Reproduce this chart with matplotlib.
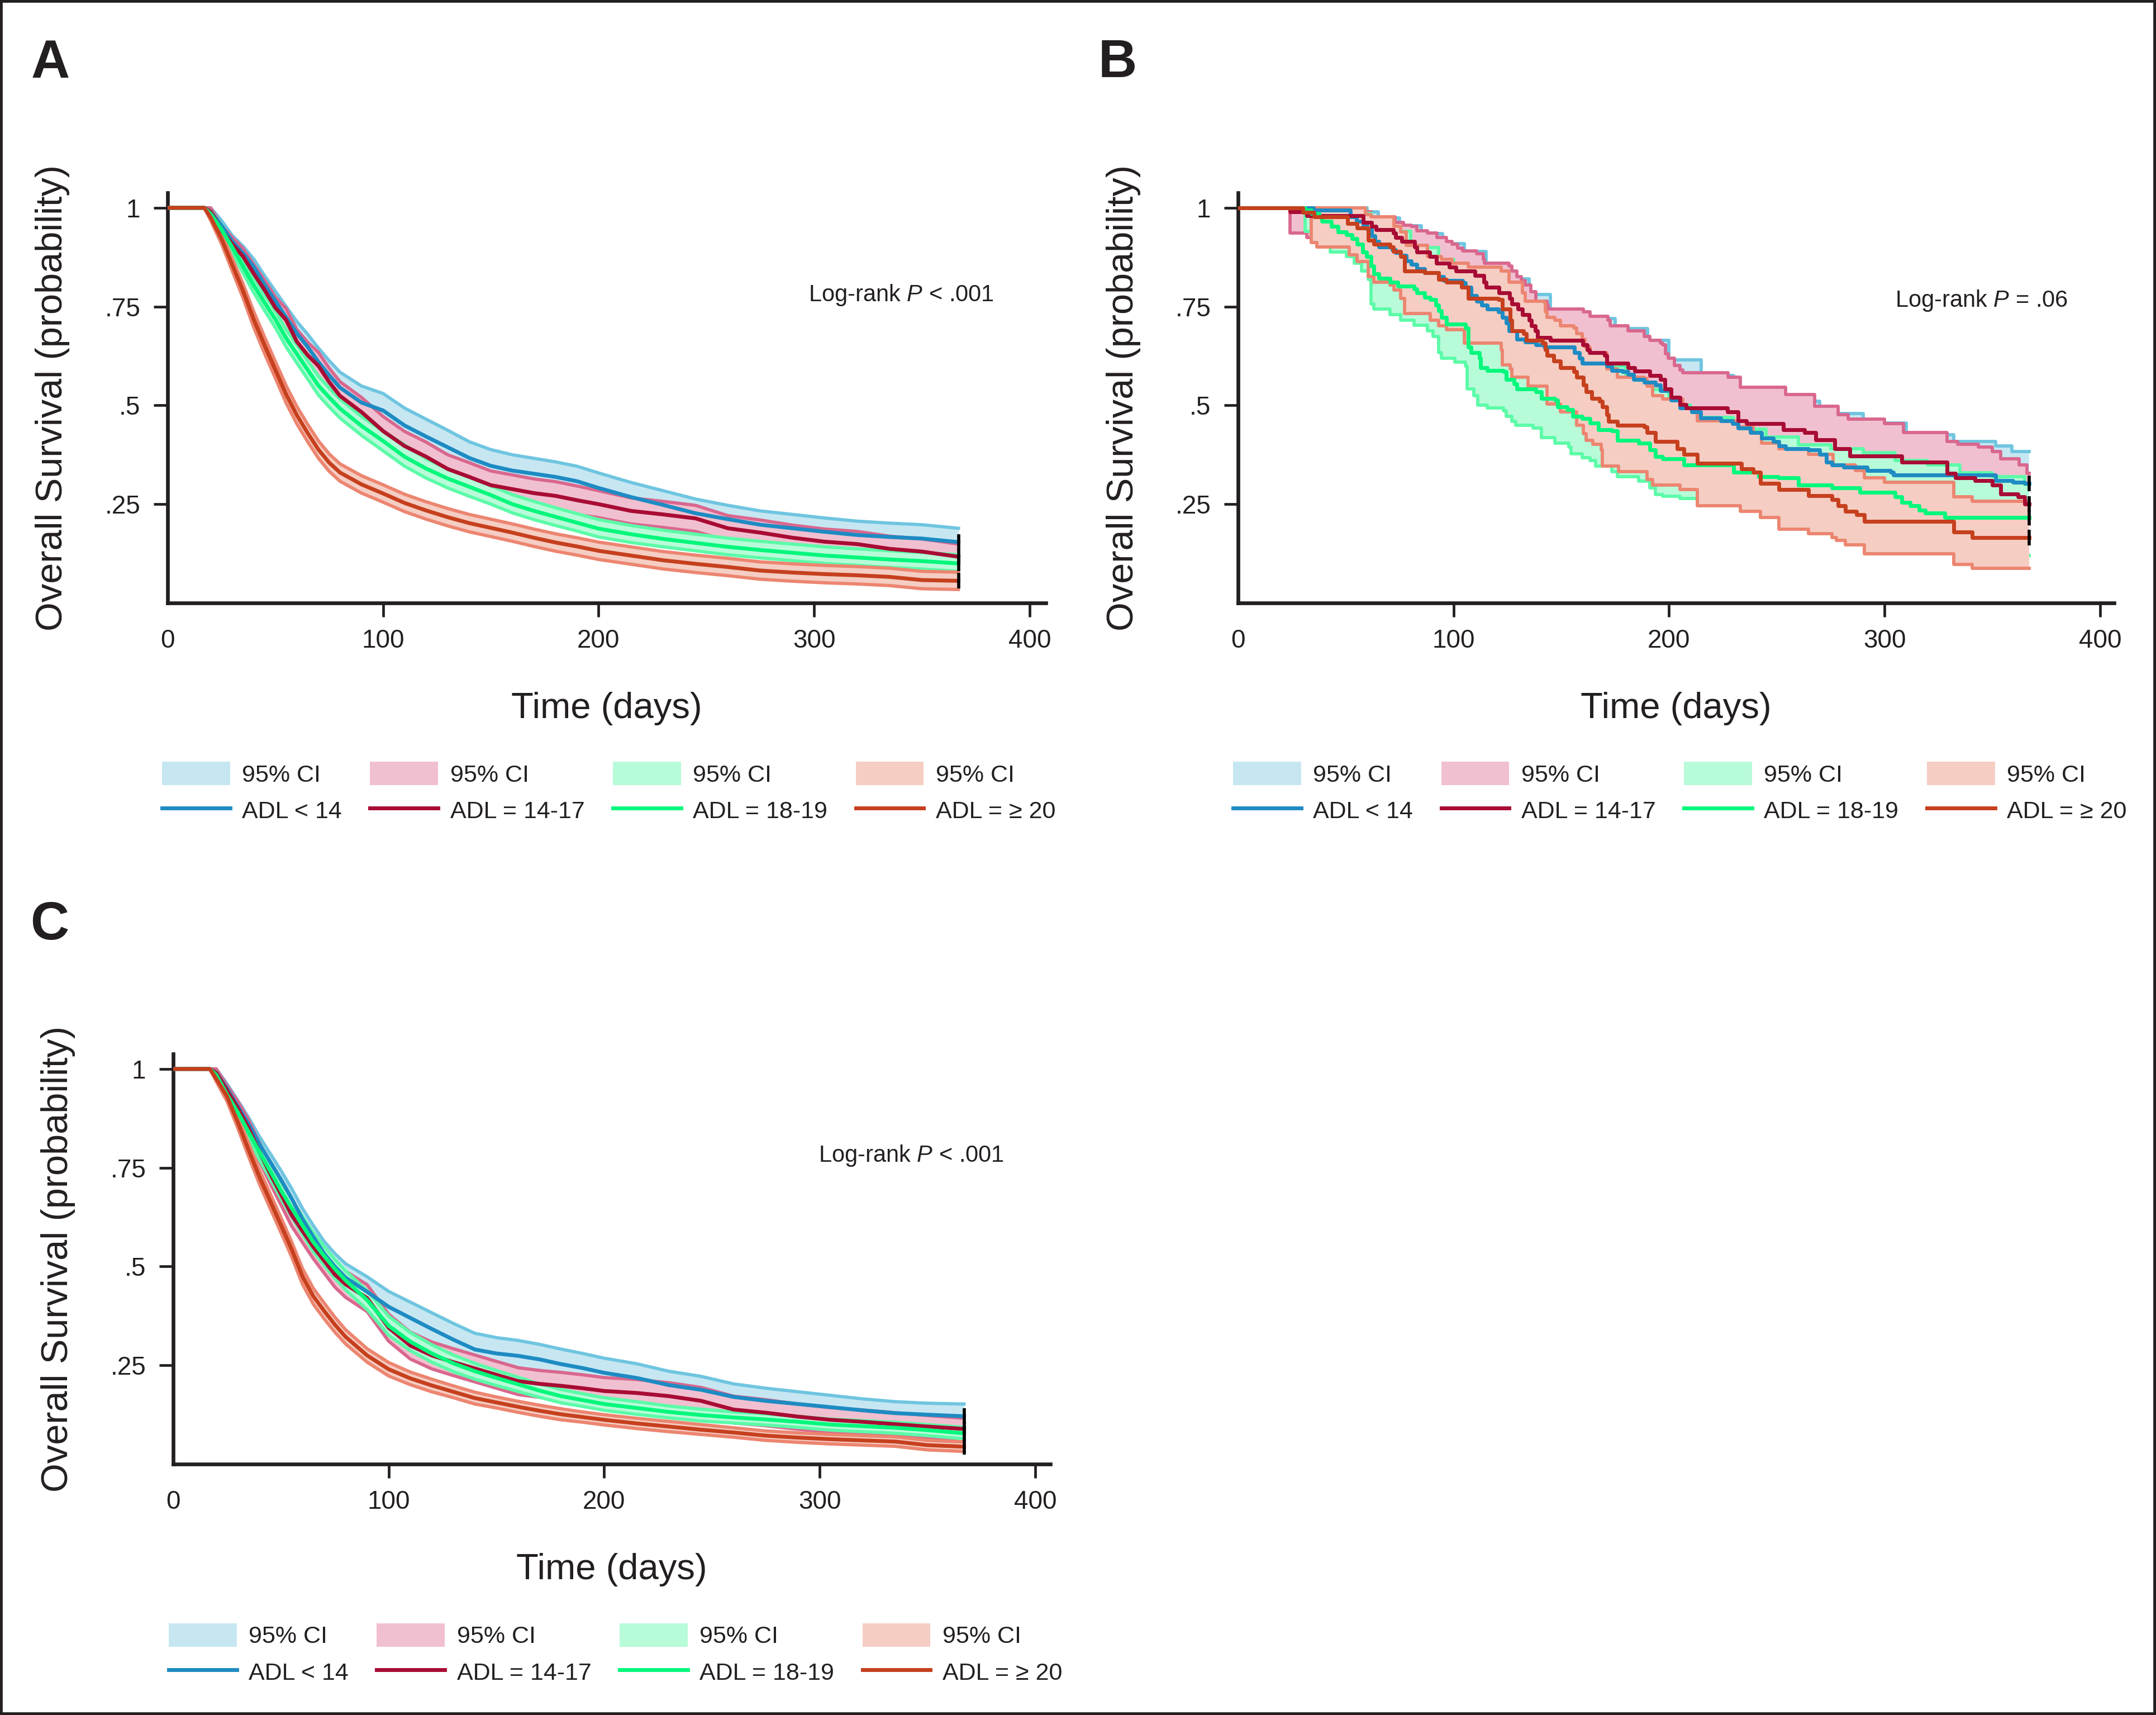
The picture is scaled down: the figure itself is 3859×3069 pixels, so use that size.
import numpy as np
import matplotlib
matplotlib.use('Agg')
import matplotlib.pyplot as plt
from matplotlib.patches import Patch, Rectangle
from matplotlib.lines import Line2D

plt.rcParams['font.family'] = ['Liberation Sans', 'DejaVu Sans']
plt.rcParams['mathtext.fontset'] = 'custom'
plt.rcParams['mathtext.rm'] = 'Liberation Sans'
plt.rcParams['mathtext.it'] = 'Liberation Sans:italic'

INK = '#231f20'

# ---------------- labels / ticks ----------------
groups = ['ADL < 14', 'ADL = 14-17', 'ADL = 18-19', 'ADL = \u2265 20']
ci_label = '95% CI'
xticks = [0, 100, 200, 300, 400]
xticklabels = ['0', '100', '200', '300', '400']
yticks = [0.25, 0.5, 0.75, 1.0]
yticklabels = ['.25', '.5', '.75', '1']
panel_letters = ['A', 'B', 'C']
logrank = ['Log-rank $P$ < .001', 'Log-rank $P$ = .06', 'Log-rank $P$ < .001']
xlabel = 'Time (days)'
ylabel = 'Overall Survival (probability)'

line_colors = ['#1e8bc3', '#a80c34', '#05f77c', '#c6401e']
edge_colors = ['#6fc5e0', '#d9678e', '#5cfba8', '#ec8570']
fill_colors = ['#c6e7f2', '#f1c0d0', '#b8fbd9', '#f5cdc3']

# ---------------- panel A / C (dense curves, read on a day grid) ----------------
days = [0, 17, 20, 25, 30, 35, 40, 45, 50, 55, 60, 65, 70, 75, 80, 90, 100, 110, 120, 130,
        140, 150, 160, 170, 180, 190, 200, 215, 230, 245, 260, 275, 290, 305, 320, 335, 350, 367]

A_blue = [1, 1, 0.99, 0.955, 0.915, 0.885, 0.85, 0.805, 0.764, 0.723, 0.682, 0.648, 0.61, 0.576, 0.545,
          0.507, 0.487, 0.449, 0.421, 0.394, 0.367, 0.347, 0.335, 0.327, 0.319, 0.308, 0.291, 0.268, 0.248,
          0.227, 0.212, 0.198, 0.189, 0.18, 0.172, 0.167, 0.163, 0.154]
A_blue_hi = [1, 1, 1.0, 0.968, 0.93, 0.903, 0.87, 0.828, 0.789, 0.75, 0.712, 0.68, 0.645, 0.613, 0.584,
             0.549, 0.53, 0.493, 0.465, 0.437, 0.408, 0.388, 0.375, 0.366, 0.357, 0.346, 0.329, 0.305, 0.284,
             0.263, 0.247, 0.233, 0.224, 0.215, 0.207, 0.202, 0.198, 0.189]
A_blue_lo = [1, 1, 0.98, 0.942, 0.9, 0.867, 0.83, 0.782, 0.739, 0.696, 0.652, 0.616, 0.575, 0.539, 0.506,
             0.465, 0.444, 0.405, 0.377, 0.351, 0.326, 0.306, 0.295, 0.288, 0.281, 0.27, 0.253, 0.231, 0.212,
             0.191, 0.177, 0.163, 0.154, 0.145, 0.137, 0.132, 0.128, 0.119]
A_crim = [1, 1, 0.99, 0.943, 0.908, 0.877, 0.833, 0.792, 0.747, 0.716, 0.661, 0.627, 0.6, 0.559, 0.524,
          0.483, 0.435, 0.397, 0.37, 0.339, 0.319, 0.298, 0.288, 0.278, 0.271, 0.26, 0.25, 0.233, 0.224,
          0.214, 0.189, 0.178, 0.165, 0.155, 0.149, 0.137, 0.13, 0.117]
A_crim_hi = [1, 1, 1.0, 0.956, 0.925, 0.897, 0.856, 0.817, 0.774, 0.745, 0.692, 0.66, 0.634, 0.594, 0.56,
             0.52, 0.472, 0.434, 0.407, 0.375, 0.355, 0.334, 0.324, 0.314, 0.307, 0.296, 0.284, 0.266, 0.257,
             0.247, 0.221, 0.21, 0.197, 0.187, 0.181, 0.169, 0.162, 0.149]
A_crim_lo = [1, 1, 0.98, 0.93, 0.891, 0.857, 0.81, 0.767, 0.72, 0.687, 0.63, 0.594, 0.566, 0.524, 0.488,
             0.446, 0.398, 0.36, 0.333, 0.303, 0.283, 0.262, 0.252, 0.242, 0.235, 0.224, 0.216, 0.2, 0.191,
             0.181, 0.157, 0.146, 0.133, 0.123, 0.117, 0.105, 0.098, 0.085]
A_green = [1, 1, 0.985, 0.945, 0.9, 0.852, 0.804, 0.76, 0.718, 0.67, 0.63, 0.59, 0.55, 0.52, 0.492,
           0.448, 0.41, 0.37, 0.34, 0.315, 0.294, 0.273, 0.25, 0.233, 0.218, 0.203, 0.188, 0.174, 0.162,
           0.152, 0.142, 0.134, 0.127, 0.12, 0.115, 0.11, 0.106, 0.1]
A_green_hi = [1, 1, 0.992, 0.957, 0.915, 0.869, 0.823, 0.78, 0.739, 0.692, 0.653, 0.613, 0.574, 0.544, 0.516,
              0.472, 0.435, 0.40, 0.365, 0.339, 0.318, 0.297, 0.274, 0.257, 0.241, 0.226, 0.211, 0.196, 0.184,
              0.174, 0.164, 0.156, 0.149, 0.142, 0.137, 0.132, 0.128, 0.122]
A_green_lo = [1, 1, 0.978, 0.933, 0.885, 0.835, 0.785, 0.74, 0.697, 0.648, 0.607, 0.567, 0.526, 0.496, 0.468,
              0.424, 0.385, 0.346, 0.316, 0.291, 0.27, 0.25, 0.228, 0.211, 0.196, 0.182, 0.167, 0.153, 0.142,
              0.132, 0.122, 0.114, 0.107, 0.1, 0.095, 0.09, 0.086, 0.08]
A_orange = [1, 1, 0.975, 0.922, 0.856, 0.79, 0.717, 0.652, 0.59, 0.528, 0.475, 0.43, 0.388, 0.355, 0.33,
            0.30, 0.277, 0.253, 0.234, 0.217, 0.202, 0.19, 0.178, 0.165, 0.153, 0.143, 0.132, 0.12, 0.108,
            0.099, 0.091, 0.082, 0.077, 0.073, 0.07, 0.066, 0.058, 0.056]
A_orange_hi = [1, 1, 0.982, 0.935, 0.872, 0.808, 0.737, 0.673, 0.611, 0.55, 0.497, 0.452, 0.41, 0.377, 0.352,
               0.322, 0.299, 0.275, 0.256, 0.239, 0.224, 0.212, 0.2, 0.187, 0.175, 0.165, 0.154, 0.142, 0.13,
               0.121, 0.113, 0.104, 0.099, 0.095, 0.092, 0.088, 0.08, 0.078]
A_orange_lo = [1, 1, 0.968, 0.909, 0.84, 0.772, 0.697, 0.631, 0.569, 0.506, 0.453, 0.408, 0.366, 0.333, 0.308,
               0.278, 0.255, 0.231, 0.212, 0.195, 0.18, 0.168, 0.156, 0.143, 0.131, 0.121, 0.11, 0.098, 0.086,
               0.077, 0.069, 0.06, 0.055, 0.051, 0.048, 0.044, 0.036, 0.034]

C_blue = [1, 1, 0.99, 0.95, 0.905, 0.86, 0.81, 0.765, 0.72, 0.672, 0.62, 0.575, 0.533, 0.5, 0.472,
          0.436, 0.398, 0.37, 0.342, 0.315, 0.29, 0.28, 0.274, 0.265, 0.253, 0.243, 0.231, 0.218, 0.2,
          0.188, 0.17, 0.16, 0.152, 0.144, 0.136, 0.129, 0.125, 0.121]
C_blue_hi = [1, 1, 1.0, 0.962, 0.92, 0.877, 0.829, 0.786, 0.743, 0.697, 0.647, 0.604, 0.564, 0.533, 0.507,
             0.474, 0.437, 0.41, 0.383, 0.356, 0.331, 0.32, 0.313, 0.303, 0.291, 0.28, 0.268, 0.254, 0.235,
             0.222, 0.203, 0.192, 0.183, 0.174, 0.165, 0.158, 0.154, 0.152]
C_blue_lo = [1, 1, 0.98, 0.938, 0.89, 0.843, 0.791, 0.744, 0.697, 0.647, 0.593, 0.546, 0.502, 0.467, 0.437,
             0.398, 0.359, 0.33, 0.301, 0.274, 0.249, 0.24, 0.235, 0.227, 0.215, 0.206, 0.194, 0.182, 0.165,
             0.154, 0.137, 0.128, 0.121, 0.114, 0.107, 0.1, 0.096, 0.09]
C_crim = [1, 1, 0.99, 0.945, 0.9, 0.85, 0.79, 0.735, 0.683, 0.63, 0.59, 0.55, 0.515, 0.48, 0.455,
          0.42, 0.345, 0.30, 0.275, 0.258, 0.242, 0.226, 0.21, 0.203, 0.198, 0.192, 0.185, 0.18, 0.172,
          0.16, 0.138, 0.13, 0.12, 0.112, 0.107, 0.101, 0.095, 0.089]
C_crim_hi = [1, 1, 1.0, 0.958, 0.918, 0.871, 0.813, 0.76, 0.71, 0.658, 0.62, 0.58, 0.546, 0.512, 0.488,
             0.454, 0.379, 0.334, 0.309, 0.292, 0.276, 0.26, 0.244, 0.237, 0.232, 0.226, 0.219, 0.214, 0.206,
             0.194, 0.172, 0.163, 0.152, 0.143, 0.137, 0.13, 0.123, 0.116]
C_crim_lo = [1, 1, 0.98, 0.932, 0.882, 0.829, 0.767, 0.71, 0.656, 0.602, 0.561, 0.52, 0.484, 0.448, 0.422,
             0.386, 0.311, 0.266, 0.241, 0.224, 0.208, 0.192, 0.176, 0.169, 0.164, 0.158, 0.151, 0.146, 0.138,
             0.126, 0.104, 0.097, 0.088, 0.081, 0.077, 0.072, 0.067, 0.062]
C_green = [1, 1, 0.985, 0.935, 0.89, 0.84, 0.79, 0.742, 0.693, 0.648, 0.604, 0.562, 0.527, 0.494, 0.465,
           0.415, 0.35, 0.31, 0.28, 0.255, 0.235, 0.218, 0.202, 0.186, 0.172, 0.162, 0.152, 0.142, 0.132,
           0.124, 0.118, 0.113, 0.107, 0.1, 0.096, 0.092, 0.086, 0.078]
C_green_hi = [1, 1, 0.992, 0.947, 0.905, 0.857, 0.809, 0.762, 0.714, 0.67, 0.627, 0.586, 0.551, 0.518, 0.489,
              0.439, 0.374, 0.333, 0.302, 0.276, 0.255, 0.237, 0.22, 0.203, 0.189, 0.178, 0.168, 0.158, 0.147,
              0.139, 0.132, 0.127, 0.121, 0.114, 0.11, 0.106, 0.1, 0.093]
C_green_lo = [1, 1, 0.978, 0.923, 0.875, 0.823, 0.771, 0.722, 0.672, 0.626, 0.581, 0.538, 0.503, 0.47, 0.441,
              0.391, 0.326, 0.287, 0.258, 0.234, 0.215, 0.199, 0.184, 0.169, 0.155, 0.146, 0.136, 0.126, 0.117,
              0.109, 0.104, 0.099, 0.093, 0.086, 0.082, 0.078, 0.072, 0.064]
C_orange = [1, 1, 0.975, 0.93, 0.865, 0.795, 0.727, 0.666, 0.605, 0.543, 0.475, 0.425, 0.388, 0.353, 0.322,
            0.275, 0.24, 0.217, 0.199, 0.183, 0.167, 0.156, 0.145, 0.135, 0.126, 0.119, 0.112, 0.103, 0.095,
            0.087, 0.08, 0.072, 0.067, 0.063, 0.06, 0.057, 0.048, 0.044]
C_orange_hi = [1, 1, 0.982, 0.942, 0.88, 0.812, 0.745, 0.685, 0.624, 0.562, 0.495, 0.445, 0.408, 0.372, 0.34,
               0.292, 0.257, 0.233, 0.215, 0.198, 0.182, 0.17, 0.159, 0.149, 0.14, 0.132, 0.125, 0.116, 0.108,
               0.1, 0.092, 0.084, 0.079, 0.075, 0.072, 0.069, 0.06, 0.056]
C_orange_lo = [1, 1, 0.968, 0.918, 0.85, 0.778, 0.709, 0.647, 0.586, 0.524, 0.455, 0.405, 0.368, 0.334, 0.304,
               0.258, 0.223, 0.201, 0.183, 0.168, 0.152, 0.142, 0.131, 0.121, 0.112, 0.106, 0.099, 0.09, 0.082,
               0.075, 0.068, 0.06, 0.055, 0.051, 0.048, 0.045, 0.036, 0.032]

# ---------------- panel B (step curves: step times and values) ----------------
B_end = 367
B_blue_t = [0, 35, 52, 55, 58, 60, 62, 63.5, 65.4, 71.6, 73, 75.4, 78, 80.5, 83, 86.7, 93, 95.5, 104.3, 105.6,
            108, 110.6, 113, 115.6, 120.7, 122.6, 124.4, 125.7, 129.5, 133.3, 138.3, 142, 156, 158.4, 159.6,
            171, 173.5, 178.5, 181, 183.5, 188.6, 193.6, 196, 201, 205, 210.6, 214.6, 224, 229.5, 232,
            237.7, 243, 248.5, 251, 254, 264.8, 270, 273, 275.6, 281, 292, 302.8, 304, 351.6, 359.7, 365]
B_blue_s = [1, 0.994, 0.977, 0.966, 0.955, 0.946, 0.929, 0.915, 0.901, 0.894, 0.887, 0.88, 0.866, 0.857, 0.846,
            0.836, 0.826, 0.816, 0.81, 0.799, 0.778, 0.764, 0.754, 0.744, 0.737, 0.723, 0.709, 0.689, 0.668,
            0.661, 0.654, 0.648, 0.634, 0.62, 0.607, 0.6, 0.589, 0.586, 0.579, 0.565, 0.558, 0.552, 0.538,
            0.513, 0.494, 0.483, 0.468, 0.461, 0.454, 0.442, 0.431, 0.417, 0.409, 0.398, 0.391, 0.387, 0.376,
            0.357, 0.35, 0.343, 0.335, 0.331, 0.324, 0.309, 0.306, 0.302]
B_blue_hi_t = [0, 52, 60, 65, 75, 85, 95, 105, 115, 125, 135, 145, 160, 175, 190, 200, 215, 230, 250, 270,
               290, 310, 332, 351.6, 359]
B_blue_hi = [1, 1, 0.99, 0.975, 0.955, 0.935, 0.91, 0.89, 0.86, 0.82, 0.78, 0.735, 0.72, 0.695, 0.665, 0.615,
             0.575, 0.54, 0.51, 0.48, 0.455, 0.425, 0.409, 0.398, 0.383]
B_blue_lo_t = [0, 35, 52, 60, 65, 75, 85, 95, 105, 115, 125, 135, 145, 160, 175, 190, 200, 215, 230, 250, 270,
               290, 310, 330, 350, 365]
B_blue_lo = [1, 0.975, 0.96, 0.9, 0.86, 0.82, 0.79, 0.77, 0.74, 0.68, 0.63, 0.59, 0.575, 0.54, 0.52, 0.48,
             0.44, 0.39, 0.37, 0.33, 0.3, 0.27, 0.255, 0.25, 0.235, 0.225]

B_crim_t = [0, 24, 32, 58, 62, 64, 72, 73, 76, 82, 83, 89, 92, 98, 101, 110, 114, 115, 121, 126, 127, 130, 132,
            135, 136, 138, 139, 145, 160, 162, 163, 170, 171, 181, 184, 191, 196, 198, 201, 205, 208, 227, 232,
            236, 253, 263, 268, 277, 284, 308, 329, 333, 342, 350, 354, 362, 365]
B_crim_s = [1, 0.99, 0.98, 0.963, 0.953, 0.944, 0.936, 0.925, 0.915, 0.901, 0.888, 0.877, 0.86, 0.85, 0.84,
            0.829, 0.812, 0.799, 0.785, 0.771, 0.757, 0.744, 0.73, 0.716, 0.702, 0.689, 0.672, 0.665, 0.654,
            0.641, 0.634, 0.627, 0.607, 0.596, 0.587, 0.576, 0.565, 0.542, 0.52, 0.502, 0.494, 0.483, 0.461,
            0.454, 0.439, 0.431, 0.413, 0.391, 0.372, 0.357, 0.328, 0.317, 0.309, 0.298, 0.276, 0.269, 0.25]
B_crim_hi_t = [0, 52.8, 58.5, 61.6, 72.9, 76.7, 80.4, 83, 88, 92.4, 96.8, 99.3, 101.8, 104.3, 110.6, 113.8,
               114.4, 125.7, 127, 129.5, 131.4, 133.2, 135.8, 138.3, 143.3, 144, 160.3, 163.4, 171.6, 172.8,
               181, 188.6, 191, 196, 197, 198.4, 199.7, 202.4, 205, 206.5, 227.5, 233, 254, 267.5, 278.4, 283,
               300, 308.9, 329, 334, 343.5, 350, 354, 362.4, 366]
B_crim_hi = [1, 0.996, 0.99, 0.977, 0.963, 0.956, 0.953, 0.942, 0.936, 0.925, 0.915, 0.908, 0.898, 0.891, 0.884,
             0.87, 0.86, 0.853, 0.84, 0.826, 0.816, 0.805, 0.788, 0.764, 0.754, 0.744, 0.737, 0.726, 0.716, 0.702,
             0.689, 0.675, 0.665, 0.658, 0.653, 0.631, 0.62, 0.601, 0.59, 0.583, 0.572, 0.546, 0.528, 0.498,
             0.476, 0.465, 0.454, 0.431, 0.409, 0.402, 0.394, 0.383, 0.365, 0.35, 0.328]
B_crim_lo_t = [0, 24, 32, 40, 50, 60, 70, 80, 90, 100, 110, 120, 130, 140, 150, 160, 170, 180, 190, 200, 210,
               230, 250, 270, 290, 310, 330, 350, 365]
B_crim_lo = [1, 0.936, 0.925, 0.91, 0.9, 0.88, 0.85, 0.82, 0.79, 0.77, 0.75, 0.72, 0.67, 0.6, 0.58, 0.56, 0.54,
             0.51, 0.49, 0.46, 0.41, 0.38, 0.36, 0.33, 0.3, 0.28, 0.26, 0.23, 0.2]

B_green_t = [0, 31, 34, 37.7, 39, 43.4, 46.5, 50.3, 52.8, 55.3, 57.8, 59.7, 61.6, 62.9, 65.4, 70.4, 74.2, 81.7,
             83, 86.7, 89.2, 91.8, 93, 94.3, 96.8, 105.6, 106.8, 108.1, 111.9, 112.5, 115.6, 123.2, 124.4, 128.2,
             129.5, 138.3, 140.8, 147, 148.3, 152.7, 155.2, 159.6, 163.4, 167.2, 173.5, 176, 186, 191, 193.6,
             197, 207, 230, 241.7, 250.6, 260, 275.6, 288.5, 304.8, 308, 312, 316, 319, 328]
B_green_s = [1, 0.994, 0.985, 0.977, 0.966, 0.953, 0.939, 0.932, 0.922, 0.908, 0.888, 0.877, 0.853, 0.833, 0.822,
             0.812, 0.802, 0.795, 0.785, 0.774, 0.768, 0.754, 0.74, 0.723, 0.706, 0.696, 0.648, 0.634, 0.62,
             0.596, 0.589, 0.586, 0.565, 0.555, 0.541, 0.534, 0.517, 0.514, 0.497, 0.49, 0.473, 0.466, 0.456,
             0.439, 0.435, 0.411, 0.404, 0.387, 0.37, 0.365, 0.35, 0.331, 0.32, 0.317, 0.298, 0.291, 0.28, 0.269,
             0.254, 0.246, 0.235, 0.228, 0.217]
B_green_hi_t = [0, 40, 55, 62, 70, 80, 93, 100, 107, 113, 125, 130, 140, 150, 160, 170, 180, 190, 200, 210, 230,
                245, 260, 275, 290, 305, 320, 335, 350, 365]
B_green_hi = [1, 1, 0.985, 0.96, 0.94, 0.9, 0.87, 0.85, 0.8, 0.76, 0.73, 0.7, 0.68, 0.65, 0.62, 0.6, 0.56, 0.54,
              0.5, 0.47, 0.44, 0.42, 0.4, 0.39, 0.38, 0.36, 0.35, 0.33, 0.32, 0.3]
B_green_lo_t = [0, 31, 42.7, 50.3, 54, 57.2, 60.3, 61.6, 62.9, 70.4, 75.4, 81.7, 88, 90.5, 93, 94.3, 100.6, 105.6,
                106.2, 109.4, 111.2, 115.6, 123.2, 124.4, 127, 128.8, 137, 140.8, 147, 153.4, 154.6, 159.6, 163.4,
                166, 173.5, 176, 186, 191, 193.6, 197, 205, 213, 233.6, 242.4, 251, 264.8, 275.6, 290.6, 332, 340.7]
B_green_lo = [1, 0.94, 0.888, 0.877, 0.86, 0.84, 0.819, 0.757, 0.744, 0.73, 0.716, 0.703, 0.689, 0.675, 0.634,
              0.62, 0.61, 0.6, 0.541, 0.524, 0.5, 0.493, 0.487, 0.473, 0.459, 0.449, 0.442, 0.418, 0.404, 0.394,
              0.377, 0.367, 0.36, 0.346, 0.332, 0.319, 0.308, 0.291, 0.274, 0.27, 0.265, 0.25, 0.235, 0.22, 0.19,
              0.18, 0.17, 0.15, 0.13, 0.12]

B_orange_t = [0, 30, 35.2, 50.9, 55.3, 60.3, 62.9, 70.4, 72, 75.4, 77.3, 86.7, 93, 96.8, 103.7, 106.8, 120.7,
              122.6, 126.3, 127, 132.6, 133.9, 141.4, 142.7, 143.3, 146.4, 149.6, 155.9, 157.1, 160.3, 161.5, 164,
              167.8, 169, 171, 172, 176, 188.6, 189.8, 193.6, 203.8, 207, 213, 233.6, 239, 242.4, 251, 264.8,
              275.6, 278.4, 281.8, 287, 290.6, 332, 340.7]
B_orange_s = [1, 0.988, 0.977, 0.96, 0.949, 0.918, 0.908, 0.901, 0.89, 0.877, 0.84, 0.836, 0.819, 0.812, 0.799,
              0.771, 0.768, 0.744, 0.716, 0.689, 0.682, 0.665, 0.658, 0.641, 0.627, 0.613, 0.596, 0.586, 0.572,
              0.552, 0.534, 0.517, 0.51, 0.497, 0.476, 0.459, 0.449, 0.445, 0.432, 0.408, 0.391, 0.376, 0.354,
              0.339, 0.331, 0.302, 0.287, 0.272, 0.261, 0.246, 0.232, 0.224, 0.206, 0.18, 0.165]
B_orange_hi_t = [0, 59, 61.6, 72.3, 75.4, 78, 88, 94.3, 99.3, 106.8, 122, 125.7, 132, 133.2, 142, 142.7, 143.3,
                 147, 149.6, 155.9, 157.1, 159.6, 160.9, 163.4, 171, 171.2, 176, 188.6, 189.8, 192.3, 197, 206.5,
                 213, 232, 239, 243, 251, 264.8, 276, 286.5, 290.6, 300, 332, 340.7]
B_orange_hi = [1, 0.983, 0.977, 0.953, 0.939, 0.905, 0.877, 0.87, 0.86, 0.85, 0.84, 0.812, 0.785, 0.764, 0.761,
               0.737, 0.723, 0.716, 0.702, 0.696, 0.682, 0.668, 0.648, 0.634, 0.624, 0.593, 0.572, 0.569, 0.548,
               0.524, 0.516, 0.494, 0.461, 0.446, 0.431, 0.405, 0.391, 0.376, 0.35, 0.335, 0.317, 0.306, 0.269,
               0.258]
B_orange_lo_t = [0, 34, 36.5, 51.5, 55.3, 60.3, 62.9, 70.4, 72.3, 75.4, 77.3, 89.2, 93, 96.8, 105, 122, 122.6,
                 126.3, 127, 134.5, 143.3, 149.6, 157.1, 160.3, 161.5, 164.7, 168.4, 169, 176.6, 189.8, 192.3,
                 205, 213, 233, 242.4, 251, 264.8, 275.6, 277.7, 281.8, 290.6, 332, 340.7]
B_orange_lo = [1, 0.912, 0.901, 0.881, 0.864, 0.826, 0.812, 0.805, 0.792, 0.771, 0.733, 0.716, 0.702, 0.692,
               0.658, 0.641, 0.603, 0.593, 0.572, 0.548, 0.504, 0.483, 0.449, 0.428, 0.411, 0.401, 0.387, 0.346,
               0.332, 0.312, 0.298, 0.287, 0.246, 0.232, 0.217, 0.187, 0.176, 0.165, 0.158, 0.147, 0.124, 0.098,
               0.087]

# ---------------- figure ----------------
W, H = 3859, 3069
fig = plt.figure(figsize=(W / 100, H / 100), dpi=100)
fig.patch.set_facecolor('white')


def add_axes(l, t, r, b):
    return fig.add_axes([l / W, 1 - b / H, (r - l) / W, (b - t) / H])


axA = add_axes(300, 345, 1872, 1079)
axB = add_axes(2216, 345, 3784, 1079)
axC = add_axes(310, 1886, 1880, 2620)

LW_LINE = 5.0
LW_EDGE = 4.2


def style(ax, xmax):
    ax.set_xlim(0, xmax)
    ax.set_ylim(0, 1.038)
    for s in ['top', 'right']:
        ax.spines[s].set_visible(False)
    for s in ['left', 'bottom']:
        ax.spines[s].set_linewidth(4.8)
        ax.spines[s].set_color(INK)
    ax.set_xticks(xticks)
    ax.set_xticklabels(xticklabels)
    ax.set_yticks(yticks)
    ax.set_yticklabels(yticklabels)
    ax.tick_params(direction='out', length=18, width=3.4, colors=INK, labelsize=33)
    ax.tick_params(axis='x', pad=15)
    ax.tick_params(axis='y', pad=17)
    ax.xaxis.get_major_ticks()[0].tick1line.set_visible(False)
    ax.text(0.5, -0.258, xlabel, transform=ax.transAxes, ha='center', va='center',
            fontsize=47, color=INK)
    ax.text(-0.131, 0.5, ylabel, transform=ax.transAxes, ha='center', va='center',
            rotation=90, fontsize=48, color=INK)


def draw_dense(ax, series):
    # series: list of (S, lo, hi) per group
    for i, (s, lo, hi) in enumerate(series):
        ax.fill_between(days, lo, hi, color=fill_colors[i], lw=0, zorder=1 + i)
        ax.plot(days, lo, color=edge_colors[i], lw=LW_EDGE, zorder=1 + i)
        ax.plot(days, hi, color=edge_colors[i], lw=LW_EDGE, zorder=1 + i)
    for i, (s, lo, hi) in enumerate(series):
        ax.plot(days, s, color=line_colors[i], lw=LW_LINE, zorder=10 + i)
        ax.plot([days[-1]], [s[-1]], marker='|', ms=20, mew=4, color='black', zorder=20)


def step_eval(t, v, q):
    t = np.asarray(t, float)
    v = np.asarray(v, float)
    idx = np.searchsorted(t, q, side='right') - 1
    return v[np.clip(idx, 0, len(v) - 1)]


def draw_steps(ax, series):
    # series: list of ((t, s), (tlo, lo), (thi, hi)) per group
    for i, (ln, lo, hi) in enumerate(series):
        q = np.unique(np.concatenate([lo[0], hi[0], [B_end]]))
        lo_q = step_eval(lo[0], lo[1], q)
        hi_q = step_eval(hi[0], hi[1], q)
        ax.fill_between(q, lo_q, hi_q, step='post', color=fill_colors[i], lw=0, zorder=1 + i)
        ax.plot(q, lo_q, drawstyle='steps-post', color=edge_colors[i], lw=LW_EDGE, zorder=1 + i)
        ax.plot(q, hi_q, drawstyle='steps-post', color=edge_colors[i], lw=LW_EDGE, zorder=1 + i)
    for i, (ln, lo, hi) in enumerate(series):
        t = list(ln[0]) + [B_end]
        s = list(ln[1]) + [ln[1][-1]]
        ax.plot(t, s, drawstyle='steps-post', color=line_colors[i], lw=LW_LINE, zorder=10 + i)
        ax.plot([B_end], [s[-1]], marker='|', ms=20, mew=4, color='black', zorder=20)


draw_dense(axA, [(A_blue, A_blue_lo, A_blue_hi), (A_crim, A_crim_lo, A_crim_hi),
                 (A_green, A_green_lo, A_green_hi), (A_orange, A_orange_lo, A_orange_hi)])
draw_steps(axB, [((B_blue_t, B_blue_s), (B_blue_lo_t, B_blue_lo), (B_blue_hi_t, B_blue_hi)),
                 ((B_crim_t, B_crim_s), (B_crim_lo_t, B_crim_lo), (B_crim_hi_t, B_crim_hi)),
                 ((B_green_t, B_green_s), (B_green_lo_t, B_green_lo), (B_green_hi_t, B_green_hi)),
                 ((B_orange_t, B_orange_s), (B_orange_lo_t, B_orange_lo), (B_orange_hi_t, B_orange_hi))])
draw_dense(axC, [(C_blue, C_blue_lo, C_blue_hi), (C_crim, C_crim_lo, C_crim_hi),
                 (C_green, C_green_lo, C_green_hi), (C_orange, C_orange_lo, C_orange_hi)])

style(axA, 1572 / 3.857)
style(axB, 1568 / 3.857)
style(axC, 1570 / 3.857)

# log-rank annotations
axA.text(297.4, 0.764, logrank[0], fontsize=30, color=INK, ha='left', va='baseline')
axB.text(305.0, 0.750, logrank[1], fontsize=30, color=INK, ha='left', va='baseline')
axC.text(299.5, 0.765, logrank[2], fontsize=30, color=INK, ha='left', va='baseline')

# legends
for ax, bx, by in [(axA, -0.0064, -0.387), (axB, -0.0057, -0.387), (axC, -0.0051, -0.388)]:
    handles, labels = [], []
    for i in range(4):
        handles.append(Patch(facecolor=fill_colors[i], edgecolor='none'))
        labels.append(ci_label)
        handles.append(Line2D([], [], color=line_colors[i], lw=5))
        labels.append(groups[i])
    leg = ax.legend(handles, labels, ncol=4, loc='upper left', bbox_to_anchor=(bx, by),
                    frameon=False, fontsize=31, handlelength=2.83, handleheight=1.115,
                    handletextpad=0.5, columnspacing=1.17, labelspacing=0.49,
                    borderpad=0, borderaxespad=0)
    for txt in leg.get_texts():
        txt.set_color(INK)

# panel letters
for letter, (px, py) in zip(panel_letters, [(90, 139), (2000, 138), (89, 1681)]):
    fig.text(px / W, 1 - py / H, letter, fontsize=69, fontweight='bold', color=INK,
             ha='center', va='baseline')

# outer frame
fig.patches.append(Rectangle((0, 0), 1, 1, transform=fig.transFigure, fill=False,
                             edgecolor=INK, lw=7, zorder=100))

fig.savefig('out.png', dpi=100, facecolor='white')
